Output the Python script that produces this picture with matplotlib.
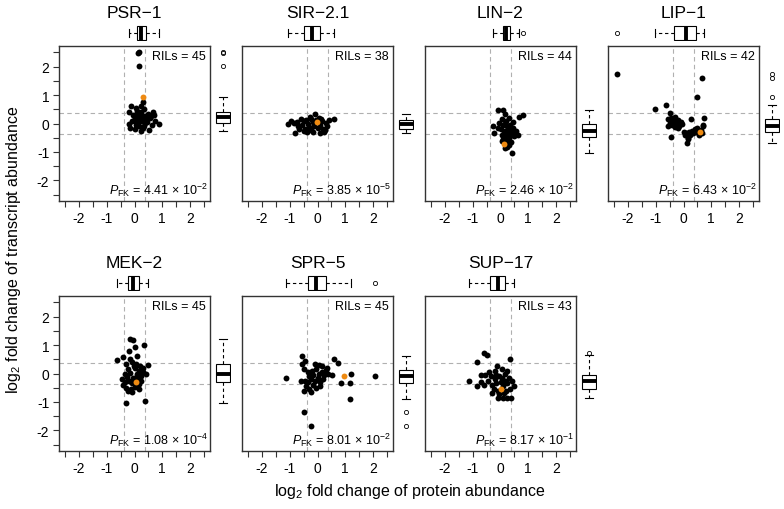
import matplotlib
matplotlib.use("Agg")
import matplotlib.pyplot as plt
import numpy as np

plt.rcParams['font.family'] = ['Liberation Sans', 'DejaVu Sans']
plt.rcParams['mathtext.fontset'] = 'custom'
plt.rcParams['mathtext.rm'] = 'Liberation Sans'
plt.rcParams['mathtext.it'] = 'Liberation Sans:italic'

# panel names, RIL counts, p values
names = ["PSR−1", "SIR−2.1", "LIN−2", "LIP−1", "MEK−2", "SPR−5", "SUP−17"]
rils = [45, 38, 44, 42, 45, 45, 43]
p_mant = ["4.41", "3.85", "2.46", "6.43", "1.08", "8.01", "8.17"]
p_exp = ["-2", "-5", "-2", "-2", "-4", "-2", "-1"]

# (protein, transcript) log2 fold changes per panel; index of orange point
psr1 = [(0.12, 2.48), (0.16, 2.50), (0.17, 2.03), (0.32, 0.92), (0.30, 0.76), (-0.12, 0.62),
        (0.05, 0.55), (0.22, 0.60), (-0.20, 0.40), (0.10, 0.45), (0.35, 0.50), (0.65, 0.42),
        (0.70, 0.30), (0.48, 0.35), (0.25, 0.40), (0.15, 0.30), (-0.05, 0.30), (0.00, 0.20),
        (0.20, 0.22), (0.30, 0.25), (0.40, 0.15), (0.55, 0.18), (0.75, 0.10), (0.88, -0.03),
        (0.62, -0.05), (0.45, 0.05), (0.28, 0.10), (0.10, 0.12), (-0.10, 0.10), (-0.20, 0.00),
        (0.05, -0.05), (0.18, -0.10), (0.35, -0.08), (0.52, -0.22), (0.25, -0.25), (0.00, -0.18),
        (-0.15, -0.15), (0.38, 0.02), (0.12, 0.05), (0.22, 0.35), (0.08, 0.38), (0.42, 0.28),
        (0.60, 0.25), (0.02, 0.08), (0.30, -0.15)]
sir21 = [(-1.08, -0.02), (-0.96, 0.10), (-0.81, -0.32), (-0.85, 0.02), (-0.70, -0.10), (-0.60, 0.16),
         (-0.55, -0.05), (-0.50, 0.08), (-0.45, -0.20), (-0.40, 0.12), (-0.38, -0.30), (-0.35, 0.00),
         (-0.30, -0.12), (-0.25, 0.15), (-0.22, -0.22), (-0.18, 0.05), (-0.12, -0.08), (-0.10, 0.33),
         (-0.05, 0.12), (0.00, -0.15), (-0.01, 0.05), (0.05, 0.20), (0.08, -0.05), (0.10, -0.32),
         (0.15, 0.08), (0.20, -0.18), (0.28, -0.24), (0.30, 0.02), (0.35, -0.10), (0.43, 0.14),
         (0.58, 0.16), (-0.65, -0.20), (-0.48, -0.28), (-0.28, 0.22), (-0.15, -0.30), (0.12, 0.15),
         (0.25, -0.30), (-0.75, 0.05)]
lin2 = [(-0.08, 0.48), (0.08, 0.46), (0.16, 0.33), (0.66, 0.22), (0.80, 0.30), (-0.28, -0.09),
        (-0.23, -0.33), (0.12, -0.72), (0.40, -1.05), (0.24, -0.82), (0.64, -0.39), (0.05, 0.15),
        (0.20, 0.10), (0.30, 0.20), (0.10, -0.05), (0.25, -0.10), (0.35, -0.05), (0.45, -0.15),
        (0.55, -0.25), (0.00, -0.20), (0.15, -0.25), (0.30, -0.30), (0.40, -0.35), (0.50, -0.45),
        (0.05, -0.40), (0.20, -0.45), (0.32, -0.50), (0.10, -0.55), (0.25, -0.60), (0.38, -0.65),
        (0.15, -0.85), (0.30, -0.75), (-0.10, -0.15), (-0.05, 0.02), (0.18, -0.02), (0.28, -0.20),
        (0.12, -0.35), (0.22, -0.28), (0.35, -0.42), (0.05, -0.60), (0.45, 0.05), (0.20, -0.65),
        (0.15, 0.00), (0.40, -0.20)]
lip1 = [(-2.39, 1.75), (0.68, 1.60), (0.47, 0.93), (-1.01, 0.51), (-0.63, 0.64), (-0.49, 0.37),
        (0.74, 0.20), (0.26, 0.16), (-0.45, -0.47), (0.11, -0.67), (0.59, -0.30), (-0.55, 0.15),
        (-0.50, 0.02), (-0.45, 0.20), (-0.40, -0.05), (-0.35, 0.10), (-0.30, 0.22), (-0.25, 0.00),
        (-0.20, 0.12), (-0.15, -0.08), (-0.10, 0.05), (-0.05, -0.02), (-0.57, -0.10), (-0.30, -0.12),
        (0.00, -0.30), (0.05, -0.40), (0.10, -0.35), (0.15, -0.50), (0.20, -0.30), (0.25, -0.42),
        (0.30, -0.25), (0.35, -0.35), (0.40, -0.20), (0.45, -0.30), (0.50, -0.15), (0.55, -0.40),
        (0.62, -0.22), (0.70, -0.10), (0.72, -0.05), (0.65, -0.35), (0.18, -0.55), (-0.20, -0.15)]
mek2 = [(-0.15, 1.21), (-0.04, 1.17), (0.00, 0.92), (0.35, 1.01), (-0.21, 0.78), (-0.62, 0.47),
        (-0.41, 0.58), (0.47, 0.31), (0.05, -0.30), (-0.29, -1.03), (0.38, -0.97), (-0.09, -0.65),
        (-0.30, 0.35), (-0.10, 0.40), (0.05, 0.35), (0.20, 0.28), (-0.25, 0.15), (0.00, 0.20),
        (0.15, 0.10), (0.30, 0.05), (-0.35, 0.00), (-0.15, 0.02), (0.08, -0.02), (0.22, -0.08),
        (0.40, 0.00), (-0.28, -0.12), (-0.05, -0.15), (0.12, -0.20), (-0.40, -0.40), (-0.20, -0.28),
        (-0.08, -0.35), (0.15, -0.38), (-0.30, -0.50), (-0.12, -0.55), (0.02, -0.48), (-0.22, -0.62),
        (0.10, -0.10), (0.25, -0.25), (-0.45, -0.20), (-0.18, 0.50), (0.08, 0.60), (-0.02, 0.25),
        (0.32, 0.18), (-0.35, -0.30), (0.18, -0.55)]
spr5 = [(-0.57, 0.62), (-1.14, -0.15), (0.58, 0.50), (0.74, 0.38), (0.94, -0.09), (1.21, -0.03),
        (2.07, -0.09), (1.18, -0.35), (1.18, -0.91), (0.85, -0.35), (-0.49, -1.34), (-0.23, -1.83),
        (0.05, 0.29), (0.34, 0.20), (0.52, -0.06), (-0.55, 0.35), (-0.50, 0.15), (-0.35, 0.05),
        (-0.30, -0.10), (-0.20, 0.10), (-0.15, -0.05), (-0.05, 0.15), (0.05, 0.00), (0.15, 0.05),
        (0.25, -0.05), (0.38, -0.02), (-0.45, -0.25), (-0.35, -0.30), (-0.25, -0.20), (-0.10, -0.25),
        (0.00, -0.15), (0.10, -0.30), (0.20, -0.20), (-0.60, -0.28), (-0.40, -0.45), (-0.30, -0.55),
        (-0.15, -0.40), (-0.05, -0.50), (0.10, -0.45), (-0.50, -0.60), (-0.25, -0.65), (0.18, 0.25),
        (-0.10, 0.35), (0.30, 0.12), (-0.45, 0.45)]
sup17 = [(-0.61, 0.72), (-0.49, 0.64), (-0.85, 0.41), (0.35, 0.52), (-1.12, -0.27), (-0.71, -0.06),
         (-0.11, 0.27), (0.18, -0.03), (0.00, -0.55), (0.47, -0.44), (-0.08, -0.85), (0.39, -0.85),
         (0.24, -0.85), (0.08, -0.85), (-0.85, -0.45), (-0.60, -0.40), (-0.45, -0.25), (-0.35, -0.10),
         (-0.30, -0.40), (-0.25, -0.55), (-0.20, -0.20), (-0.15, -0.35), (-0.10, -0.60), (-0.05, -0.10),
         (0.00, -0.30), (0.05, -0.15), (0.10, -0.45), (0.15, -0.25), (0.20, -0.60), (0.25, -0.35),
         (0.30, -0.15), (-0.40, 0.05), (-0.20, 0.10), (0.05, 0.15), (-0.55, -0.05), (0.12, -0.70),
         (-0.30, -0.70), (0.35, -0.55), (-0.70, -0.30), (-0.05, -0.72), (0.22, 0.08), (-0.18, -0.05),
         (0.40, -0.25)]
panels = [psr1, sir21, lin2, lip1, mek2, spr5, sup17]
orange_idx = [3, 20, 7, 10, 8, 4, 8]

W, H = 784, 510
fig = plt.figure(figsize=(W / 100, H / 100), dpi=100)

def fr(left, top, w, h):
    return [left / W, 1 - (top + h) / H, w / W, h / H]

lim = (-2.72, 2.72)
ticks = np.arange(-2.5, 2.51, 0.5)
ticklabels = [str(int(t)) if t == int(t) else "" for t in ticks]
spine_col = "#333333"
dash_col = "#b0b0b0"
orange = "#EE8A12"

bp_kw = dict(patch_artist=True, widths=0.9, showfliers=True,
             boxprops=dict(facecolor="white", edgecolor="black", linewidth=0.8),
             whiskerprops=dict(linestyle=(0, (3, 2.5)), linewidth=0.8),
             capprops=dict(linewidth=0.8),
             medianprops=dict(color="black", linewidth=2.8),
             flierprops=dict(marker="o", markersize=3, markerfacecolor="none",
                             markeredgecolor="black", markeredgewidth=0.6))

for i, pts in enumerate(panels):
    r, c = divmod(i, 4)
    left = 59 + c * 183
    top = 47 if r == 0 else 297
    pw, ph = 151, 155
    x = np.array([p[0] for p in pts])
    y = np.array([p[1] for p in pts])

    ax = fig.add_axes(fr(left, top, pw, ph))
    ax.set_xlim(lim)
    ax.set_ylim(lim)
    for v in (-0.38, 0.38):
        ax.axvline(v, color=dash_col, lw=0.8, ls=(0, (4, 3)), zorder=1)
        ax.axhline(v, color=dash_col, lw=0.8, ls=(0, (4, 3)), zorder=1)
    mask = np.ones(len(x), bool)
    mask[orange_idx[i]] = False
    ax.scatter(x[mask], y[mask], s=18, color="black", lw=0, zorder=3)
    ax.scatter(x[~mask], y[~mask], s=18, color=orange, lw=0, zorder=4)
    for s in ax.spines.values():
        s.set_color(spine_col)
        s.set_linewidth(1.0)
    ax.set_xticks(ticks)
    ax.set_xticklabels(ticklabels, fontsize=10)
    if c == 0:
        ax.set_yticks(ticks)
        ax.set_yticklabels(ticklabels, fontsize=10)
    else:
        ax.set_yticks([])
    ax.tick_params(direction="out", length=4, width=0.8, color=spine_col, pad=3)
    ax.text(0.97, 0.975, f"RILs = {rils[i]}", transform=ax.transAxes,
            ha="right", va="top", fontsize=9)
    ax.text(0.985, 0.02, r"$P_{\mathrm{FK}}$ = " + p_mant[i] + r"$\,\times\,$10$^{" + p_exp[i] + "}$",
            transform=ax.transAxes, ha="right", va="bottom", fontsize=9)

    # marginal boxplot of protein (top)
    axt = fig.add_axes(fr(left, top - 21, pw, 16))
    axt.boxplot(x, orientation="horizontal", **bp_kw)
    axt.set_xlim(lim)
    axt.set_ylim(0.5, 1.5)
    axt.axis("off")

    # marginal boxplot of transcript (right)
    axr = fig.add_axes(fr(left + pw + 5, top, 16, ph))
    axr.boxplot(y, orientation="vertical", **bp_kw)
    axr.set_ylim(lim)
    axr.set_xlim(0.5, 1.5)
    axr.axis("off")

    fig.text((left + pw / 2) / W, 1 - (13 if r == 0 else 264) / H, names[i],
             ha="center", va="center", fontsize=12.5)

fig.text(14 / W, 1 - 250 / H, r"log$_2$ fold change of transcript abundance",
         rotation=90, ha="center", va="center", fontsize=11.5)
fig.text(410 / W, 1 - 492 / H, r"log$_2$ fold change of protein abundance",
         ha="center", va="center", fontsize=11.5)

fig.savefig("out.png", dpi=100)
